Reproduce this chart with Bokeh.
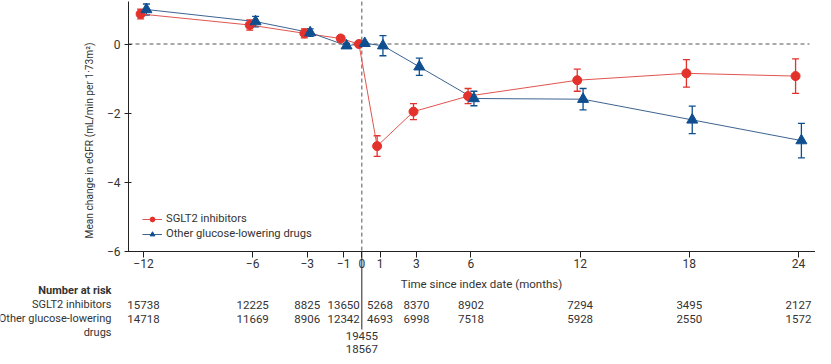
import math
from bokeh.plotting import figure
from bokeh.models import (ColumnDataSource, Whisker, TeeHead, LinearAxis, FixedTicker,
                          Legend, LegendItem, Label)
from bokeh.transform import dodge
from bokeh.core.properties import value
from bokeh.embed import file_html
from bokeh.resources import INLINE

# ---------------- data ----------------
months = [-12, -6, -3, -1, 0, 1, 3, 6, 12, 18, 24]
sglt2_mean = [0.87, 0.55, 0.31, 0.16, 0.0, -2.96, -1.96, -1.51, -1.05, -0.85, -0.93]
sglt2_err = [0.14, 0.15, 0.13, 0.08, 0.03, 0.30, 0.23, 0.22, 0.32, 0.40, 0.50]
other_mean = [1.0, 0.65, 0.33, -0.05, 0.02, -0.05, -0.66, -1.58, -1.60, -2.20, -2.80]
other_err = [0.16, 0.15, 0.11, 0.07, 0.03, 0.29, 0.25, 0.21, 0.31, 0.40, 0.50]

y_ticks = [-6, -4, -2, 0]
x_ticks = months

risk_months = [-12, -6, -3, -1, 1, 3, 6, 12, 18, 24]
risk_sglt2 = ["15738", "12225", "8825", "13650", "5268", "8370", "8902", "7294", "3495", "2127"]
risk_other = ["14718", "11669", "8906", "12342", "4693", "6998", "7518", "5928", "2550", "1572"]
risk_index = ["19455", "18567"]  # at month 0, SGLT2 then other

RED = "#e3322b"
RED_LINE = "#e0554f"
BLUE = "#0f4f8f"
BLUE_LINE = "#3d6391"
FONT = "Roboto"
TXT = "#333333"

# ---------------- figure ----------------
PXM = 18.194           # pixels per month
PXU = 34.5             # pixels per eGFR unit
X0 = -19.860
X1 = X0 + 815 / PXM
Y1 = 1.261
Y0 = Y1 - 356 / PXU
AX_X = X0 + 128 / PXM  # y-axis position (months)

def xpx(px):
    return X0 + px / PXM

def ytab(ref_py):
    return -(ref_py - 47.5) / PXU

p = figure(width=815, height=356, x_range=(X0, X1), y_range=(Y0, Y1),
           output_backend="svg", toolbar_location=None,
           x_axis_location=None, y_axis_location=None, min_border=0)
p.outline_line_color = None
p.grid.visible = False
p.background_fill_color = "white"
p.border_fill_color = "white"

yaxis = LinearAxis(fixed_location=AX_X, bounds=(-6, 1.23),
                   ticker=FixedTicker(ticks=y_ticks))
yaxis.major_label_overrides = {t: (str(t).replace("-", "\u2212")) for t in y_ticks}
xaxis = LinearAxis(fixed_location=-6, bounds=(AX_X, X1),
                   ticker=FixedTicker(ticks=x_ticks))
xaxis.major_label_overrides = {t: (str(t).replace("-", "\u2212")) for t in x_ticks}
for ax in (xaxis, yaxis):
    ax.axis_line_color = "#222222"
    ax.major_tick_line_color = "#222222"
    ax.minor_tick_line_color = None
    ax.major_label_text_font = FONT
    ax.major_label_text_font_size = "12px"
    ax.major_label_text_color = TXT
yaxis.major_tick_in = 3
yaxis.major_tick_out = 4
yaxis.major_label_standoff = 4
xaxis.major_tick_in = 0
xaxis.major_tick_out = 6
xaxis.major_label_standoff = 2
p.add_layout(yaxis, "left")
p.add_layout(xaxis, "below")

# axis titles
p.add_layout(Label(x=xpx(89), y=ytab(144), text="Mean change in eGFR (mL/min per 1\u00b773m\u00b2)",
                   angle=math.pi / 2, text_align="center", text_baseline="middle",
                   text_font=FONT, text_font_size="10.2px", text_color=TXT))
p.add_layout(Label(x=xpx(481), y=ytab(287), text="Time since index date (months)",
                   text_align="center", text_baseline="middle",
                   text_font=FONT, text_font_size="11.5px", text_color=TXT))

# reference lines
p.segment(x0=[AX_X], y0=[0], x1=[xpx(809)], y1=[0], line_color="#555555",
          line_dash="4 3", line_width=1)
p.segment(x0=[0], y0=[1.23], x1=[0], y1=[-6], line_color="#555555",
          line_dash="4 3", line_width=1)
p.segment(x0=[0], y0=[-6], x1=[0], y1=[ytab(333)], line_color="#222222", line_width=1)

# data
src = ColumnDataSource(dict(
    m=months,
    s=sglt2_mean, s_lo=[a - b for a, b in zip(sglt2_mean, sglt2_err)],
    s_hi=[a + b for a, b in zip(sglt2_mean, sglt2_err)],
    o=other_mean, o_lo=[a - b for a, b in zip(other_mean, other_err)],
    o_hi=[a + b for a, b in zip(other_mean, other_err)],
))
DX = 0.16
xs = dodge("m", -DX, range=p.x_range)
xo = dodge("m", DX, range=p.x_range)

ls = p.line(x=xs, y="s", source=src, line_color=RED_LINE, line_width=1)
lo = p.line(x=xo, y="o", source=src, line_color=BLUE_LINE, line_width=1)

for base, lo_, hi_, col in ((xs, "s_lo", "s_hi", RED), (xo, "o_lo", "o_hi", BLUE)):
    w = Whisker(base=base, lower=lo_, upper=hi_, source=src, dimension="height",
                line_color=col, line_width=1.3,
                lower_head=TeeHead(size=7, line_color=col, line_width=1.3),
                upper_head=TeeHead(size=7, line_color=col, line_width=1.3))
    p.add_layout(w)

ms = p.scatter(x=xs, y="s", source=src, marker="circle", size=9,
               fill_color=RED, line_color=RED)
mo = p.scatter(x=xo, y="o", source=src, marker="triangle", size=11,
               fill_color=BLUE, line_color=BLUE)

legend = Legend(items=[LegendItem(label="SGLT2 inhibitors", renderers=[ls, ms]),
                       LegendItem(label="Other glucose-lowering drugs", renderers=[lo, mo])],
                location=(142, 116), orientation="vertical")
legend.background_fill_alpha = 0
legend.border_line_color = None
legend.padding = 0
legend.margin = 0
legend.spacing = 2
legend.glyph_width = 20
legend.glyph_height = 12
legend.label_height = 12
legend.label_standoff = 4
legend.label_text_font = FONT
legend.label_text_font_size = "11.2px"
legend.label_text_color = TXT
p.add_layout(legend)

# number at risk table
LX = xpx(111)
row_labels = [("Number at risk", 294, "bold"), ("SGLT2 inhibitors", 308, "normal"),
              ("Other glucose-lowering", 322, "normal"), ("drugs", 336, "normal")]
for txt, py, style in row_labels:
    p.text(x=[LX], y=[ytab(py)], text=[txt], text_align="right", text_baseline="middle",
           text_font=value(FONT), text_font_size="11px", text_font_style=style,
           text_color=TXT)

p.text(x=risk_months, y=[ytab(308)] * len(risk_months), text=risk_sglt2,
       text_align="center", text_baseline="middle", text_font=value(FONT),
       text_font_size="11.5px", text_color=TXT)
p.text(x=risk_months, y=[ytab(322)] * len(risk_months), text=risk_other,
       text_align="center", text_baseline="middle", text_font=value(FONT),
       text_font_size="11.5px", text_color=TXT)
p.text(x=[0, 0], y=[ytab(339), ytab(352)], text=risk_index,
       text_align="center", text_baseline="middle", text_font=value(FONT),
       text_font_size="11.5px", text_color=TXT)

open("out.html", "w").write(file_html(p, INLINE))
